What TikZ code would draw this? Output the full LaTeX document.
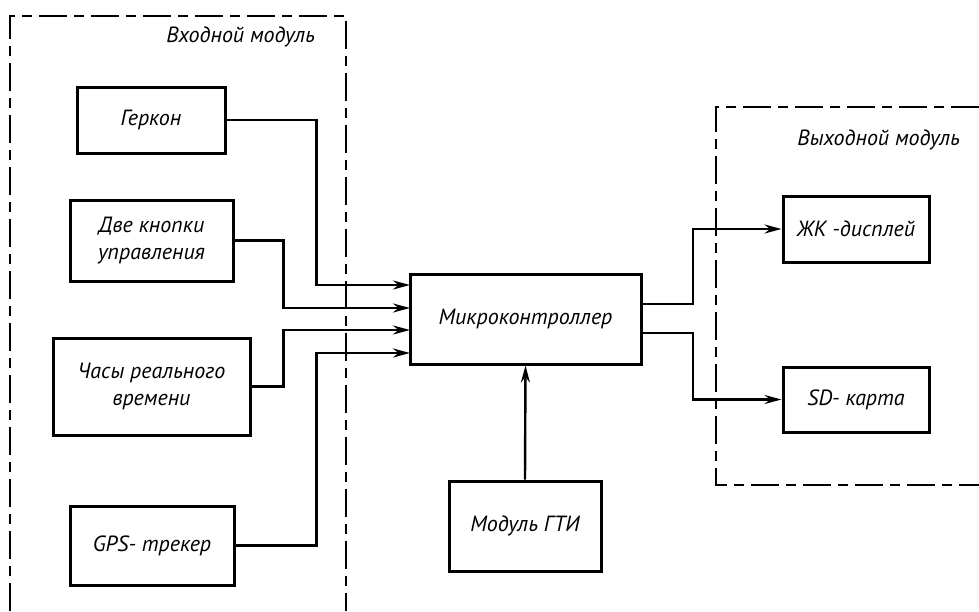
\documentclass[tikz,border=0pt]{standalone}
\usepackage{fontspec}
\setmainfont{PT Sans}
\usetikzlibrary{arrows.meta}

\begin{document}
\begin{tikzpicture}[x=0.5pt, y=-0.5pt,
	block/.style={draw, line width=1.5pt, inner sep=2pt, align=center, font=\itshape\fontsize{11}{13.5}\selectfont},
	arr/.style={line width=1.2pt, -{Stealth[length=8.5pt,width=4.5pt]}},
	modul/.style={line width=1.4pt, dash pattern=on 14pt off 3.5pt on 5pt off 3.5pt}]
	\useasboundingbox (0,0) rectangle (979,611);
	\draw[modul] (10,611) -- (10,16) -- (346,16) -- (346,611);
	\draw[modul] (979,107) -- (716,107) -- (716,485) -- (979,485);
	\node[anchor=east, font=\itshape\fontsize{11}{13.5}\selectfont] (inlabel) at (322,37) {Входной модуль};
	\node[anchor=east, font=\itshape\fontsize{11}{13.5}\selectfont] (outlabel) at (967,140) {Выходной модуль};
	\node[block, minimum width=74pt, minimum height=33pt] (gerkon) at (151,120) {Геркон};
	\node[block, minimum width=81.5pt, minimum height=40.5pt] (knopki) at (151.5,240.5) {Две кнопки\\управления};
	\node[block, minimum width=98.5pt, minimum height=48.5pt] (chasy) at (151.5,386.5) {Часы реального\\времени};
	\node[block, minimum width=82pt, minimum height=39.5pt] (gps) at (152,545.5) {GPS- трекер};
	\node[block, minimum width=115.5pt, minimum height=45pt] (micro) at (525.5,319) {Микроконтроллер};
	\node[block, minimum width=76pt, minimum height=45pt] (gti) at (525,526) {Модуль ГТИ};
	\node[block, minimum width=73pt, minimum height=33pt] (lcd) at (856,229) {ЖК -дисплей};
	\node[block, minimum width=73pt, minimum height=32.5pt] (sd) at (856,399.5) {SD- карта};
	\coordinate (in1) at (410,285);
	\coordinate (in2) at (410,308);
	\coordinate (in3) at (410,330);
	\coordinate (in4) at (410,353);
	\coordinate (out1) at (641,304);
	\coordinate (out2) at (641,333);
	\draw[arr] (gerkon.east) -- ++(90,0) |- (in1);
	\draw[arr] (knopki.east) -- ++(49,0) |- (in2);
	\draw[arr] (chasy.east) -- ++(32,0) |- (in3);
	\draw[arr] (gps.east) -- ++(81,0) |- (in4);
	\draw[arr] (gti.north) -- (micro.south);
	\draw[arr] (out1) -- ++(52,0) |- (lcd.west);
	\draw[arr] (out2) -- ++(52,0) |- (sd.west);
\end{tikzpicture}
\end{document}
